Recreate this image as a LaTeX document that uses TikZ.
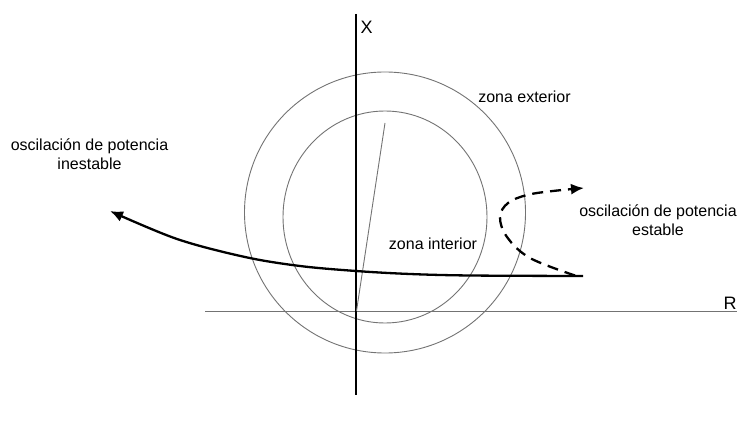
\documentclass[tikz,border=0pt]{standalone}
\usepackage{fontspec}
\setmainfont{Liberation Sans}
\usetikzlibrary{arrows.meta}
\begin{document}
\begin{tikzpicture}[x=1pt,y=-1pt,
  thinline/.style={draw=black!55,line width=0.9pt},
  axis/.style={draw=black,line width=2.1pt},
  curve/.style={draw=black,line width=2.3pt,-{Latex[length=13pt,width=11pt]}},
  lbl/.style={inner sep=0pt,align=center,font=\fontsize{16}{19}\selectfont,anchor=base},
  axlbl/.style={inner sep=0pt,font=\fontsize{18}{20}\selectfont,anchor=base}]
\useasboundingbox (0,0) rectangle (737,425);
% circles
\draw[thinline] (385,212.5) circle[radius=140.5];
\draw[thinline] (385,217) ellipse[x radius=102,y radius=106];
% axes
\coordinate (rl) at (205,311);
\coordinate (rr) at (737,311);
\draw[thinline] (rl) -- (rr);
\coordinate (xt) at (356,14);
\coordinate (xb) at (356,395);
\draw[axis] (xt) -- (xb);
% radius line
\coordinate (ra) at (385,123);
\coordinate (rb) at (356.5,311);
\draw[thinline] (ra) -- (rb);
% labels
\node[axlbl] (X) at (366.5,34) {X};
\node[axlbl] (R) at (730,309) {R};
\node[lbl] (unst) at (89.5,170) {oscilación de potencia\\inestable};
\node[lbl] (st) at (658,236) {oscilación de potencia\\estable};
\node[lbl] (zi) at (433,250) {zona interior};
\node[lbl] (ze) at (524.5,103) {zona exterior};
% trajectories
\draw[curve] plot[smooth,tension=0.55] coordinates {(583,276) (470,275.5) (410,274) (356,271) (300,266) (245,257) (177,239) (110,211)};
\draw[curve,dash pattern=on 11pt off 7pt] plot[smooth,tension=0.6] coordinates {(575,275.5) (530,258) (507,237) (500,217) (508,203) (527,195) (553,191) (584,188)};
\end{tikzpicture}
\end{document}
